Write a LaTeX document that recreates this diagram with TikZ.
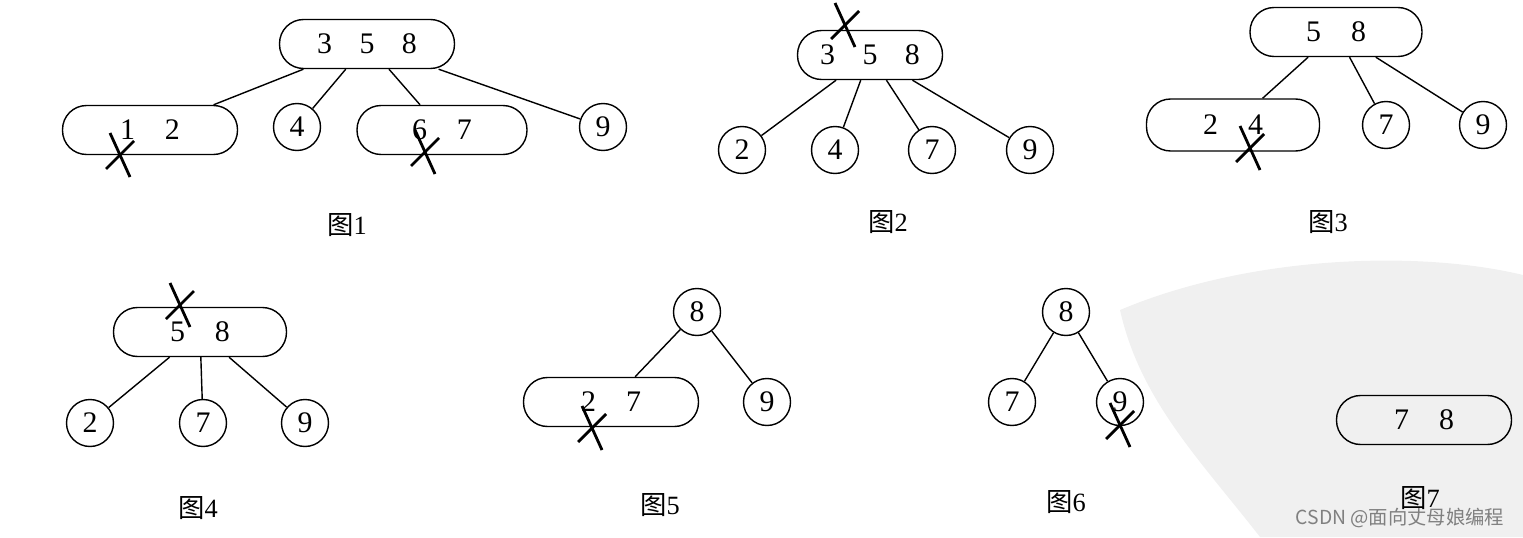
\documentclass[tikz,border=0pt]{standalone}
\usepackage{fontspec}
\setmainfont{Liberation Serif}
\newfontfamily\cjk{Noto Sans CJK SC}
\usetikzlibrary{calc}
\tikzset{
  keys/.style={draw, thick, rounded corners=0.48cm, minimum width=3.5cm, minimum height=0.98cm, inner sep=0pt},
  leaf/.style={draw, thick, circle, minimum size=0.94cm, inner sep=0pt},
  edge/.style={thick},
  figlabel/.style={font=\fontsize{15}{17}\selectfont},
  cut/.style={line width=1.6pt}
}
\newcommand{\crossat}[1]{\draw[cut] ($(#1)+(-10,-22)$) -- ($(#1)+(10,22)$);
  \draw[cut] ($(#1)+(-14,14)$) -- ($(#1)+(14,-14)$);}
\newcommand{\fig}[1]{{\cjk 图}#1}
\begin{document}
\begin{tikzpicture}[x=0.02cm, y=-0.02cm, font=\fontsize{17}{19}\selectfont]
\useasboundingbox (0,0) rectangle (1523,537);
% watermark
\fill[gray!12] (1120,310) .. controls (1250,255) and (1420,250) .. (1523,275) -- (1523,537) -- (1260,537) .. controls (1200,460) and (1140,400) .. cycle;
\node[gray, font=\cjk\fontsize{11}{13}\selectfont] (wm) at (1400,518) {CSDN @面向丈母娘编程};

% figure 1
\node[keys] (r1) at (367,44) {3\hspace{0.55cm}5\hspace{0.55cm}8};
\node[keys] (a1) at (150,130) {1\hspace{0.6cm}2};
\node[leaf] (b1) at (297,127) {4};
\node[keys, minimum width=3.4cm] (c1) at (442,130) {6\hspace{0.6cm}7};
\node[leaf] (d1) at (603,127) {9};
\foreach \n in {a1,b1,c1,d1} \draw[edge] (r1) -- (\n);
\crossat{120,155}
\crossat{425,152}
\node[figlabel] (f1) at (347,225) {\fig{1}};

% figure 2
\node[keys, minimum width=2.9cm] (r2) at (870,55) {3\hspace{0.55cm}5\hspace{0.55cm}8};
\node[leaf] (a2) at (742,150) {2};
\node[leaf] (b2) at (835,150) {4};
\node[leaf] (c2) at (932,150) {7};
\node[leaf] (d2) at (1030,150) {9};
\foreach \n in {a2,b2,c2,d2} \draw[edge] (r2) -- (\n);
\crossat{845,25}
\node[figlabel] (f2) at (888,222) {\fig{2}};

% figure 3
\node[keys, minimum width=3.44cm] (r3) at (1336,32) {5\hspace{0.6cm}8};
\node[keys, minimum width=3.46cm, minimum height=1.04cm] (a3) at (1233,125) {2\hspace{0.6cm}4};
\node[leaf] (b3) at (1386,125) {7};
\node[leaf] (c3) at (1483,125) {9};
\foreach \n in {a3,b3,c3} \draw[edge] (r3) -- (\n);
\crossat{1250,148}
\node[figlabel] (f3) at (1328,222) {\fig{3}};

% figure 4
\node[keys, minimum width=3.46cm] (r4) at (200,332) {5\hspace{0.6cm}8};
\node[leaf] (a4) at (90,423) {2};
\node[leaf] (b4) at (203,423) {7};
\node[leaf] (c4) at (305,423) {9};
\foreach \n in {a4,b4,c4} \draw[edge] (r4) -- (\n);
\crossat{180,305}
\node[figlabel] (f4) at (198,508) {\fig{4}};

% figure 5
\node[leaf] (r5) at (697,312) {8};
\node[keys] (a5) at (611,402) {2\hspace{0.6cm}7};
\node[leaf] (b5) at (767,402) {9};
\foreach \n in {a5,b5} \draw[edge] (r5) -- (\n);
\crossat{592,428}
\node[figlabel] (f5) at (660,505) {\fig{5}};

% figure 6
\node[leaf] (r6) at (1066,312) {8};
\node[leaf] (a6) at (1012,402) {7};
\node[leaf] (b6) at (1120,402) {9};
\foreach \n in {a6,b6} \draw[edge] (r6) -- (\n);
\crossat{1120,425}
\node[figlabel] (f6) at (1066,502) {\fig{6}};

% figure 7
\node[keys] (r7) at (1424,420) {7\hspace{0.6cm}8};
\node[figlabel] (f7) at (1420,498) {\fig{7}};
\end{tikzpicture}
\end{document}
